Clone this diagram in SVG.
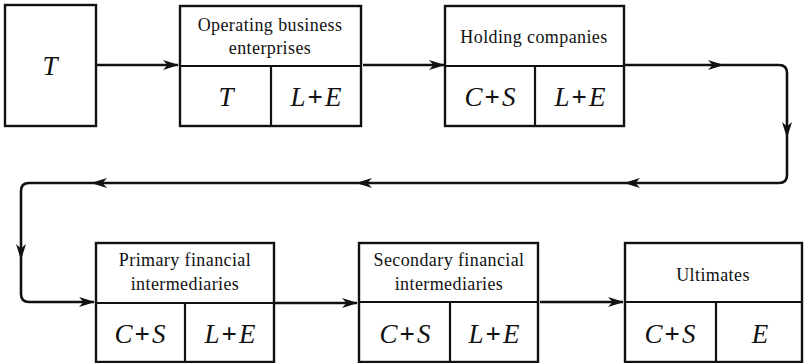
<svg xmlns="http://www.w3.org/2000/svg" width="807" height="363" viewBox="0 0 807 363">
<defs>
<style>
.box{fill:#fff;stroke:#111;stroke-width:2.4}
.ln{stroke:#111;stroke-width:2.2}
.hd{font-family:"Liberation Serif","DejaVu Serif",serif;font-size:18px;letter-spacing:0.4px;fill:#111;text-anchor:middle}
.m{font-family:"Liberation Serif","DejaVu Serif",serif;font-size:27px;font-style:italic;fill:#111;text-anchor:middle}
.p{font-style:normal;font-weight:bold}
.c{fill:none;stroke:#111;stroke-width:2.6}
</style>
<marker id="ah" markerWidth="16" markerHeight="12" refX="15" refY="6" orient="auto" markerUnits="userSpaceOnUse">
<path d="M0,1 L16,6 L0,11 L4.5,6 z" fill="#111"/>
</marker>
<marker id="mh" markerWidth="16" markerHeight="12" refX="8" refY="6" orient="auto" markerUnits="userSpaceOnUse">
<path d="M0,1 L16,6 L0,11 L4.5,6 z" fill="#111"/>
</marker>
</defs>

<g id="nodeT">
<rect class="box" x="5" y="5" width="91" height="121"/>
<text class="m" x="50" y="75">T</text>
</g>

<g id="nodeOperating">
<rect class="box" x="180" y="6" width="181" height="120"/>
<line class="ln" x1="180" y1="66" x2="361" y2="66"/>
<line class="ln" x1="271" y1="66" x2="271" y2="126"/>
<text class="hd" x="270" y="31">Operating business</text>
<text class="hd" x="270" y="54">enterprises</text>
<text class="m" x="226" y="106">T</text>
<text class="m" x="316" y="106">L<tspan class="p" dx="2">+</tspan><tspan dx="2">E</tspan></text>
</g>

<g id="nodeHolding">
<rect class="box" x="445" y="6" width="179" height="120"/>
<line class="ln" x1="445" y1="66" x2="624" y2="66"/>
<line class="ln" x1="535" y1="66" x2="535" y2="126"/>
<text class="hd" x="534" y="43">Holding companies</text>
<text class="m" x="490" y="106">C<tspan class="p" dx="2">+</tspan><tspan dx="2">S</tspan></text>
<text class="m" x="580" y="106">L<tspan class="p" dx="2">+</tspan><tspan dx="2">E</tspan></text>
</g>

<g id="nodePrimary">
<rect class="box" x="96" y="243" width="178" height="119"/>
<line class="ln" x1="96" y1="303" x2="274" y2="303"/>
<line class="ln" x1="185" y1="303" x2="185" y2="362"/>
<text class="hd" x="185" y="266">Primary financial</text>
<text class="hd" x="185" y="290">intermediaries</text>
<text class="m" x="140" y="343">C<tspan class="p" dx="2">+</tspan><tspan dx="2">S</tspan></text>
<text class="m" x="230" y="343">L<tspan class="p" dx="2">+</tspan><tspan dx="2">E</tspan></text>
</g>

<g id="nodeSecondary">
<rect class="box" x="359" y="243" width="179" height="119"/>
<line class="ln" x1="359" y1="302" x2="538" y2="302"/>
<line class="ln" x1="450" y1="302" x2="450" y2="362"/>
<text class="hd" x="449" y="266">Secondary financial</text>
<text class="hd" x="449" y="290">intermediaries</text>
<text class="m" x="405" y="343">C<tspan class="p" dx="2">+</tspan><tspan dx="2">S</tspan></text>
<text class="m" x="494" y="343">L<tspan class="p" dx="2">+</tspan><tspan dx="2">E</tspan></text>
</g>

<g id="nodeUltimates">
<rect class="box" x="625" y="243" width="177" height="119"/>
<line class="ln" x1="625" y1="302" x2="802" y2="302"/>
<line class="ln" x1="716" y1="302" x2="716" y2="362"/>
<text class="hd" x="713" y="281">Ultimates</text>
<text class="m" x="670" y="343">C<tspan class="p" dx="2">+</tspan><tspan dx="2">S</tspan></text>
<text class="m" x="760" y="343">E</text>
</g>

<g id="connectors">
<line class="c" x1="97" y1="65" x2="178" y2="65" marker-end="url(#ah)"/>
<line class="c" x1="363" y1="65" x2="444" y2="65" marker-end="url(#ah)"/>
<path class="c" d="M624,65 L716,65" marker-end="url(#mh)"/>
<path class="c" d="M716,65 L779,65 Q787,65 787,73 L787,130" marker-end="url(#mh)"/>
<path class="c" d="M787,130 L787,175 Q787,183 779,183 L632,183" marker-end="url(#mh)"/>
<path class="c" d="M632,183 L364,183" marker-end="url(#mh)"/>
<path class="c" d="M364,183 L99,183" marker-end="url(#mh)"/>
<path class="c" d="M99,183 L29,183 Q21,183 21,191 L21,252" marker-end="url(#mh)"/>
<path class="c" d="M21,252 L21,294 Q21,302 29,302 L94,302" marker-end="url(#ah)"/>
<line class="c" x1="275" y1="303" x2="357" y2="303" marker-end="url(#ah)"/>
<line class="c" x1="540" y1="302" x2="623" y2="302" marker-end="url(#ah)"/>
</g>
</svg>
